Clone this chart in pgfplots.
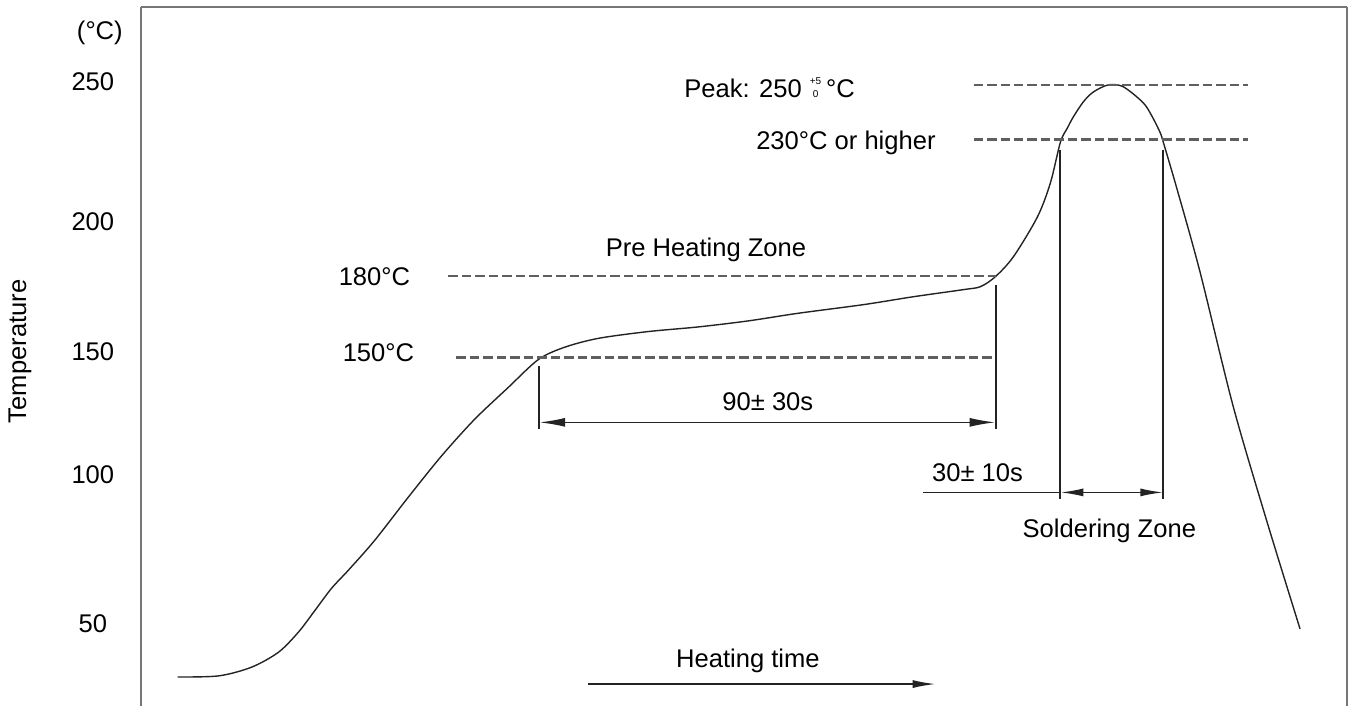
\documentclass[border=0pt]{standalone}
\usepackage{fontspec}
\setmainfont{Liberation Sans}
\usepackage{pgfplots}
\pgfplotsset{compat=1.18}
\usetikzlibrary{arrows.meta}
\definecolor{axgray}{RGB}{118,118,118}
\definecolor{dashgray}{RGB}{95,95,95}
\definecolor{ink}{RGB}{35,35,35}
\begin{document}
\fontsize{12.8}{15}\selectfont
\begin{tikzpicture}[font=\fontsize{12.8}{15}\selectfont]
\begin{axis}[
  scale only axis, width=604pt, height=350pt,
  xmin=139, xmax=1347, ymin=22.16, ymax=278.57,
  axis x line*=top, axis y line*=left,
  axis line style={axgray, line width=1pt},
  xtick=\empty,
  ytick={52.2,107.1,152.2,199.8,251.1},
  yticklabels={50,100,150,200,250},
  major tick length=0pt,
  yticklabel style={anchor=center, xshift=-24pt},
  /pgf/number format/assume math mode=true,
  clip=false,
]
% reflow profile
\addplot[ink, line width=0.7pt, smooth, tension=0.5] coordinates {
(176,32.8)(217,33.2)(250,36.4)(277,41.9)(297,49.3)(313,57.0)(330,65.3)(347,72.0)
(373,82.8)(407,98.8)(440,113.8)(473,127.2)(507,139.0)(537,149.2)(563,153.7)(597,157.0)
(647,159.5)(697,161.2)(747,163.4)(797,166.2)(863,169.4)(913,172.3)(963,174.9)(980,176.0)
(995,179.7)(1013,187.0)(1037,201.6)(1050,214.1)(1060,229.0)(1067,234.2)(1073,238.3)
(1083,243.8)(1093,247.4)(1108,250)(1123,249.3)(1143,243.4)(1152,238.3)(1160,232.4)
(1163,229.0)(1177,211.5)(1200,181.1)(1233,132.1)(1267,89.6)(1300,50.4)};
% dashed reference levels
\addplot[dashgray, line width=1.1pt, dash pattern=on 4.75pt off 2pt] coordinates {(973,250)(1248,250)};
\addplot[dashgray, line width=1.1pt, dash pattern=on 4.75pt off 2pt] coordinates {(973,230)(1248,230)};
\addplot[dashgray, line width=1.1pt, dash pattern=on 4.75pt off 2pt] coordinates {(447,180)(995,180)};
\addplot[dashgray, line width=1.1pt, dash pattern=on 4.75pt off 2pt] coordinates {(455,150)(995,150)};
% vertical markers
\addplot[ink, line width=1pt] coordinates {(538,146.7)(538,123.6)};
\addplot[ink, line width=1pt] coordinates {(995,176.7)(995,123.6)};
\addplot[ink, line width=1pt] coordinates {(1060,226.2)(1060,98.0)};
\addplot[ink, line width=1pt] coordinates {(1163,226.2)(1163,98.0)};
\addplot[ink, line width=0.8pt] coordinates {(922,100.5)(1060,100.5)};
% dimension arrows
\draw[ink, line width=0.8pt, {Latex[length=13pt,width=4.5pt]}-{Latex[length=13pt,width=4.5pt]}]
  (axis cs:538,126.2) -- (axis cs:995,126.2);
\draw[ink, line width=0.8pt, {Latex[length=11.5pt,width=4pt]}-{Latex[length=11.5pt,width=4pt]}]
  (axis cs:1060,100.5) -- (axis cs:1163,100.5);
\draw[ink, line width=0.8pt, -{Latex[length=11.5pt,width=4pt]}]
  (axis cs:587,30.2) -- (axis cs:935,30.2);
% texts
\node at (axis cs:98,269) {(°C)};
\node[rotate=90] at (axis cs:18,152.2) {Temperature};
\node at (axis cs:373,179.7) {180°C};
\node at (axis cs:377,151.8) {150°C};
\node at (axis cs:705,189.6) {Pre Heating Zone};
\node at (axis cs:767,133.9) {90± 30s};
\node at (axis cs:977,107.9) {30± 10s};
\node at (axis cs:1109,86.3) {Soldering Zone};
\node[anchor=base west, inner sep=0pt] at (axis cs:683,245.2)
  {Peak: 250\hspace{4pt}{\fontsize{5}{6.8}\selectfont\shortstack{+5\\0}}\hspace{2.5pt}°C};
\node[anchor=base west, inner sep=0pt] at (axis cs:755,226.2) {230°C or higher};
\node at (axis cs:747,38.6) {Heating time};
\path (axis cs:0,22.16) rectangle (axis cs:1348,281.14);
\end{axis}
\draw[axgray, line width=1pt] (0,0) ++(604pt,0) -- ++(0,350pt);
\end{tikzpicture}
\end{document}
